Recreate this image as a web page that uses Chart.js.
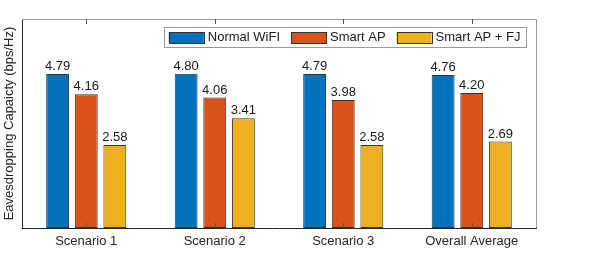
<!DOCTYPE html>
<html>
<head>
<meta charset="utf-8">
<script src="https://cdn.jsdelivr.net/npm/chart.js@4"></script>
<style>
  html, body { margin: 0; padding: 0; background: #fff; }
  #wrap { width: 598px; height: 256px; }
</style>
</head>
<body>
<div id="wrap"><canvas id="myBarChart"></canvas></div>
<script>
const categories = ["Scenario 1", "Scenario 2", "Scenario 3", "Overall Average"];
const seriesNames = ["Normal WiFI", "Smart AP", "Smart AP + FJ"];
const normalWifi = [4.79, 4.80, 4.79, 4.76];
const smartAp = [4.16, 4.06, 3.98, 4.20];
const smartApFj = [2.58, 3.41, 2.58, 2.69];
const yMax = 6.5;

const colors = ["#0072BD", "#D95319", "#EDB120"];
const FONT = '"Liberation Sans", Arial, sans-serif';
const TEXT = "#262626";

// value labels above each bar
const barLabels = {
    id: "barLabels",
    afterDatasetsDraw(chart) {
        const ctx = chart.ctx;
        ctx.save();
        ctx.font = "13px " + FONT;
        ctx.fillStyle = "#1a1a1a";
        ctx.textAlign = "center";
        ctx.textBaseline = "bottom";
        chart.data.datasets.forEach((ds, i) => {
            chart.getDatasetMeta(i).data.forEach((bar, j) => {
                ctx.fillText(ds.data[j].toFixed(2), bar.x, bar.y - 1);
            });
        });
        ctx.restore();
    }
};

// box, inner ticks and legend inside the axes
const boxAndLegend = {
    id: "boxAndLegend",
    afterDraw(chart) {
        const ctx = chart.ctx;
        const a = chart.chartArea;
        const xs = chart.scales.x;
        ctx.save();
        ctx.lineWidth = 1;
        // top + right box lines
        ctx.strokeStyle = "#9a9a9a";
        ctx.beginPath();
        ctx.moveTo(a.left, a.top + 0.5);
        ctx.lineTo(a.right + 0.5, a.top + 0.5);
        ctx.lineTo(a.right + 0.5, a.bottom);
        ctx.stroke();
        // tick marks
        ctx.strokeStyle = "#555";
        xs.ticks.forEach((t, i) => {
            const x = Math.round(xs.getPixelForTick(i)) + 0.5;
            ctx.beginPath();
            ctx.moveTo(x, a.top);
            ctx.lineTo(x, a.top + 5);
            ctx.moveTo(x, a.bottom);
            ctx.lineTo(x, a.bottom - 5);
            ctx.stroke();
        });
        // legend
        ctx.font = "13px " + FONT;
        ctx.textBaseline = "middle";
        const sw = 35, sh = 11, padL = 4.5, padR = 6, gapT = 4, gapI = 11;
        const ds = chart.data.datasets;
        const widths = ds.map(d => ctx.measureText(d.label).width);
        let total = padL + padR;
        widths.forEach((w, i) => { total += sw + gapT + w + (i < widths.length - 1 ? gapI : 0); });
        const right = a.right - 9.5;
        const left = right - total;
        const top = a.top + 8, h = 20;
        ctx.fillStyle = "#fff";
        ctx.fillRect(left, top, total, h);
        ctx.strokeStyle = "#9a9a9a";
        ctx.strokeRect(Math.round(left) + 0.5, top + 0.5, Math.round(total), h);
        let x = left + padL;
        const cy = top + h / 2 + 0.5;
        ds.forEach((d, i) => {
            ctx.fillStyle = d.backgroundColor;
            ctx.fillRect(x, cy - sh / 2, sw, sh);
            ctx.strokeStyle = "#333";
            ctx.strokeRect(Math.round(x) + 0.5, Math.round(cy - sh / 2) + 0.5, sw, sh);
            ctx.fillStyle = "#1a1a1a";
            ctx.fillText(d.label, x + sw + gapT, cy);
            x += sw + gapT + widths[i] + gapI;
        });
        ctx.restore();
    }
};

const ctx = document.getElementById("myBarChart").getContext("2d");
const seriesValues = [normalWifi, smartAp, smartApFj];

const myBarChart = new Chart(ctx, {
    type: "bar",
    data: {
        labels: categories,
        datasets: seriesNames.map((name, i) => ({
            label: name,
            data: seriesValues[i],
            backgroundColor: colors[i],
            borderColor: "#333",
            borderWidth: 1,
            borderSkipped: false,
            categoryPercentage: 0.668,
            barPercentage: 0.8,
        })),
    },
    options: {
        responsive: true,
        maintainAspectRatio: false,
        animation: false,
        layout: { padding: { top: 19, right: 62, left: 0, bottom: 0 } },
        scales: {
            x: {
                grid: { display: false, drawTicks: false },
                border: { display: true, color: TEXT, width: 1 },
                ticks: { color: TEXT, font: { family: FONT, size: 13 }, padding: 6 },
                afterFit(scale) { scale.height = 28; },
            },
            y: {
                min: 0,
                max: yMax,
                grid: { display: false, drawTicks: false },
                border: { display: true, color: TEXT, width: 1 },
                ticks: { display: false },
                title: {
                    display: true,
                    text: "Eavesdropping Capaicty (bps/Hz)",
                    color: TEXT,
                    font: { family: FONT, size: 13 },
                    padding: { top: 2, bottom: 0 },
                },
                afterFit(scale) { scale.width = 22; },
            },
        },
        plugins: {
            legend: { display: false },
            tooltip: { enabled: false },
        },
    },
    plugins: [barLabels, boxAndLegend],
});
</script>
</body>
</html>
